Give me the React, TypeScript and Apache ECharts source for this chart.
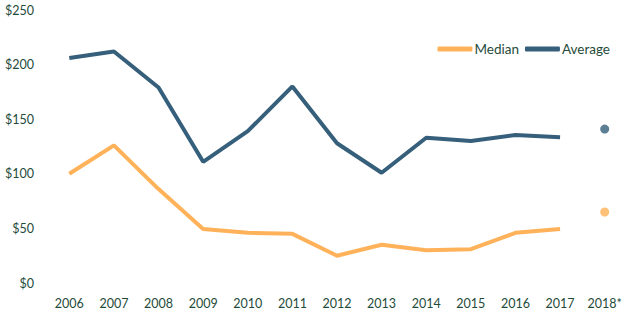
import React, { useEffect, useRef } from "react";
import * as echarts from "echarts";

const years = ["2006", "2007", "2008", "2009", "2010", "2011", "2012", "2013", "2014", "2015", "2016", "2017", "2018*"];
const medianValues = [100, 126, 86, 49.5, 46, 45, 25, 35, 30, 31, 46, 49.5, null];
const averageValues = [206, 212, 179, 111, 139, 180, 128, 101, 133, 130, 135.5, 133.5, null];
const median2018 = 65;
const average2018 = 141;
const yTicks = [0, 50, 100, 150, 200, 250];

const ORANGE = "#FFB259";
const NAVY = "#355F7A";
const TEXT = "#1F4B3A";
const FONT = "Lato, 'Liberation Sans', sans-serif";

export default function App() {
  const ref = useRef<HTMLDivElement>(null);
  useEffect(() => {
    const chart = echarts.init(ref.current!, null, { renderer: "svg" });
    const lastOnly = (v: number) => years.map((_, i) => (i === years.length - 1 ? v : null));
    chart.setOption({
      animation: false,
      grid: { left: 47, right: 6, top: 10, bottom: 45 },
      legend: {
        right: 18,
        top: 37,
        itemWidth: 35,
        itemHeight: 5,
        itemGap: 6,
        icon: "roundRect",
        data: ["Median", "Average"],
        textStyle: { color: TEXT, fontSize: 13.5, fontFamily: FONT, padding: [0, 0, 0, -3] },
      },
      xAxis: {
        type: "category",
        data: years,
        axisLine: { show: false },
        axisTick: { show: false },
        axisLabel: { color: TEXT, fontSize: 12.5, fontFamily: FONT, margin: 14, interval: 0 },
      },
      yAxis: {
        type: "value",
        min: yTicks[0],
        max: yTicks[yTicks.length - 1],
        interval: 50,
        splitLine: { show: false },
        axisLine: { show: false },
        axisTick: { show: false },
        axisLabel: { color: TEXT, fontSize: 12.5, fontFamily: FONT, margin: 13, formatter: (v: number) => "$" + v },
      },
      series: [
        {
          name: "Median",
          type: "line",
          data: medianValues,
          symbol: "none",
          color: ORANGE,
          lineStyle: { color: ORANGE, width: 4 },
        },
        {
          name: "Average",
          type: "line",
          data: averageValues,
          symbol: "none",
          color: NAVY,
          lineStyle: { color: NAVY, width: 4 },
        },
        {
          name: "Median 2018",
          type: "scatter",
          data: lastOnly(median2018),
          symbolSize: 9,
          itemStyle: { color: ORANGE },
        },
        {
          name: "Average 2018",
          type: "scatter",
          data: lastOnly(average2018),
          symbolSize: 9,
          itemStyle: { color: NAVY },
        },
      ],
    });
    return () => chart.dispose();
  }, []);
  return <div ref={ref} style={{ position: "absolute", left: 0, top: 0, width: 633, height: 328 }} />;
}
